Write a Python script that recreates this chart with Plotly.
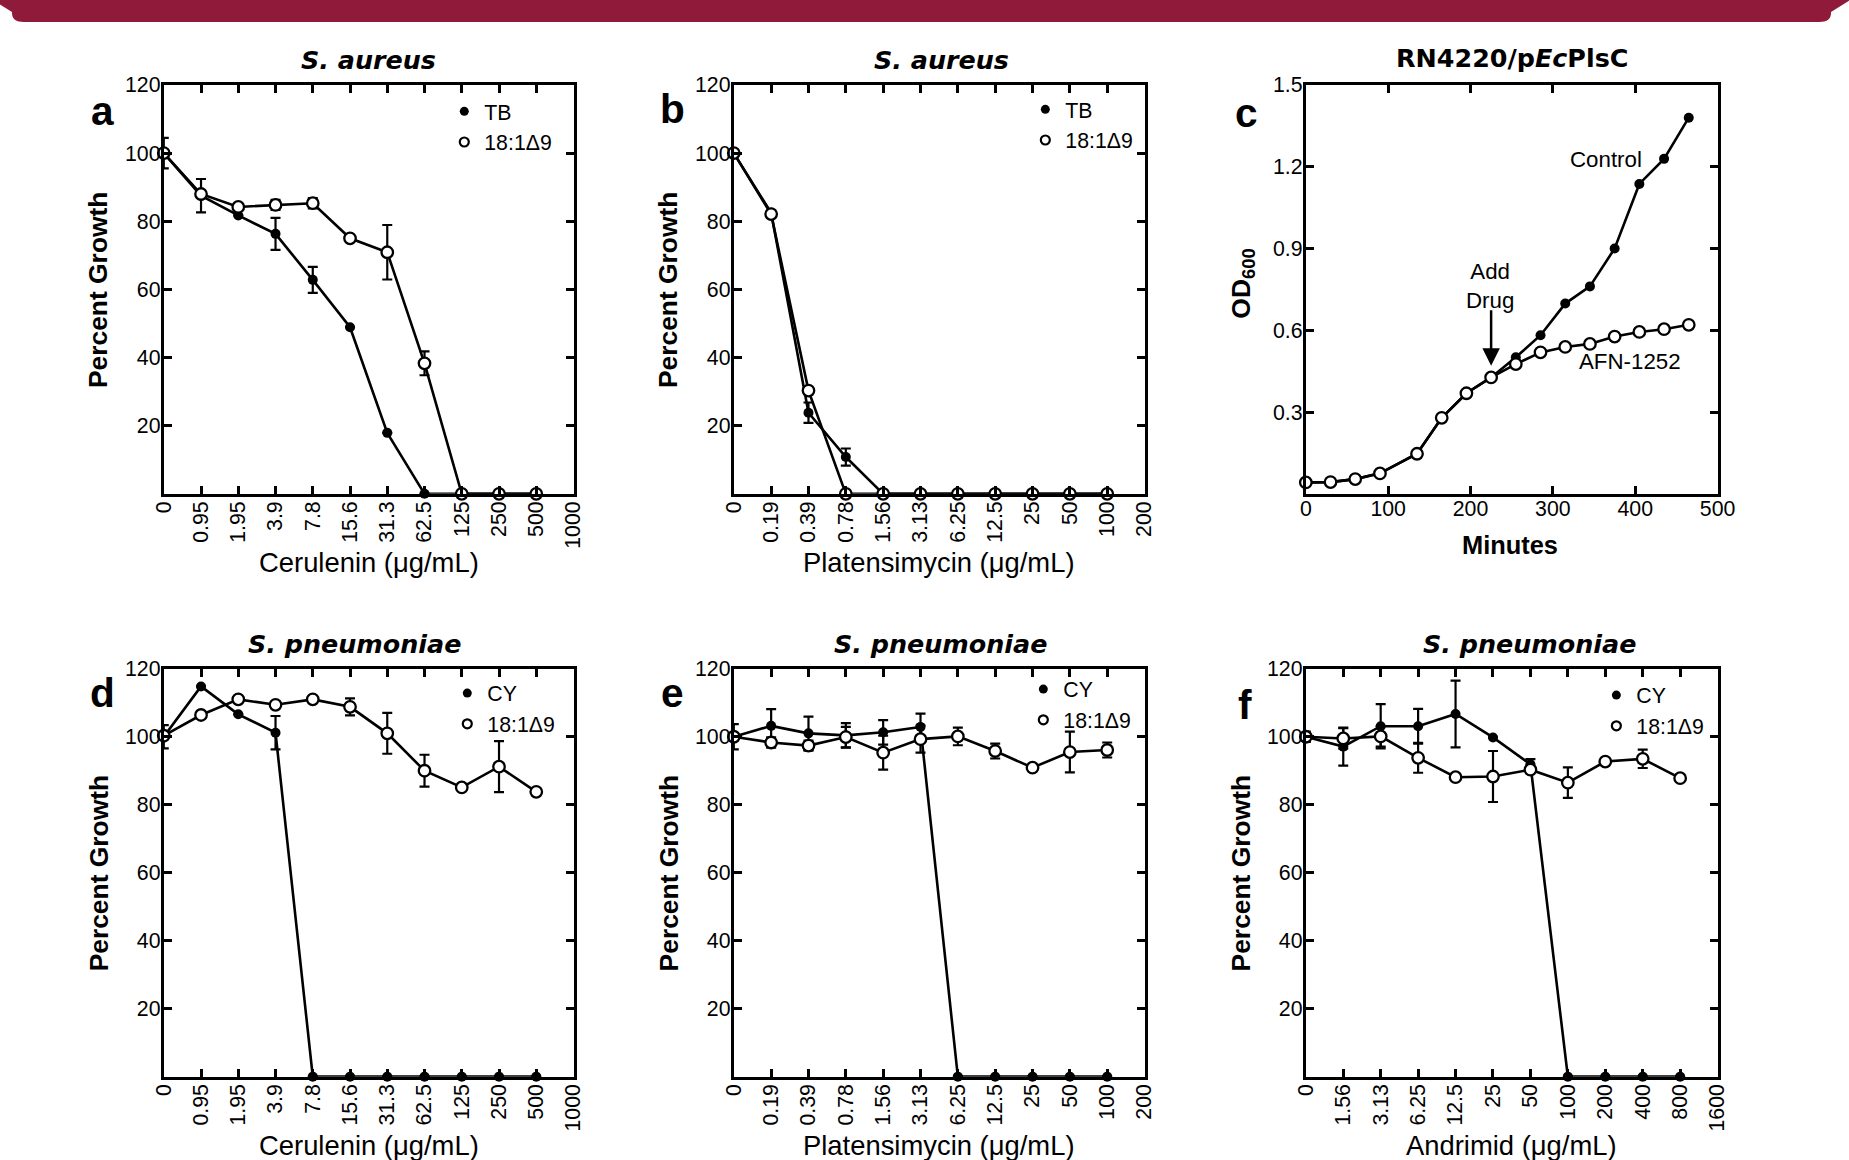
import plotly.graph_objects as go

# ---------------- data ----------------
a_labels = ["0", "0.95", "1.95", "3.9", "7.8", "15.6", "31.3", "62.5", "125", "250", "500", "1000"]
a_tb = [100, 87.5, 81.7, 76.3, 62.8, 48.9, 17.9, 0, 0, 0, 0]
a_tb_err = [4.5, 4.9, 0, 4.7, 3.8, 0, 0, 0, 0, 0, 0]
a_ufa = [100, 88.0, 84.2, 84.8, 85.3, 75.0, 70.9, 38.3, 0, 0, 0]
a_ufa_err = [0, 0, 0, 1.5, 1.5, 0, 8.0, 3.5, 0, 0, 0]

b_labels = ["0", "0.19", "0.39", "0.78", "1.56", "3.13", "6.25", "12.5", "25", "50", "100", "200"]
b_tb = [100, 82.5, 23.8, 10.8, 0, 0, 0, 0, 0, 0, 0]
b_tb_err = [0, 0, 3.0, 2.5, 0, 0, 0, 0, 0, 0, 0]
b_ufa = [100, 82.1, 30.3, 0, 0, 0, 0, 0, 0, 0, 0]
b_ufa_err = [0, 0, 0, 0, 0, 0, 0, 0, 0, 0, 0]

c_minutes = [0, 30, 60, 90, 135, 165, 195, 225, 255, 285, 315, 345, 375, 405, 435, 465]
c_control = [0.042, 0.043, 0.054, 0.075, 0.147, 0.279, 0.369, 0.427, 0.501, 0.582, 0.698, 0.761, 0.900, 1.137, 1.229, 1.380]
c_afn = [0.042, 0.043, 0.054, 0.075, 0.147, 0.279, 0.369, 0.427, 0.476, 0.519, 0.539, 0.550, 0.577, 0.594, 0.604, 0.620]
c_xticks = [0, 100, 200, 300, 400, 500]
c_yticks = [0.3, 0.6, 0.9, 1.2, 1.5]
c_drug_time = 225
c_drug_od = 0.47

d_labels = ["0", "0.95", "1.95", "3.9", "7.8", "15.6", "31.3", "62.5", "125", "250", "500", "1000"]
d_cy = [100, 114.8, 106.6, 101.2, 0, 0, 0, 0, 0, 0, 0]
d_cy_err = [3.4, 0, 0, 4.9, 0, 0, 0, 0, 0, 0, 0]
d_ufa = [100.3, 106.4, 111.0, 109.4, 111.0, 108.8, 101.0, 90.0, 85.1, 91.2, 83.8]
d_ufa_err = [0, 0, 0, 0, 0, 2.5, 6.0, 4.7, 0, 7.5, 0]

e_labels = ["0", "0.19", "0.39", "0.78", "1.56", "3.13", "6.25", "12.5", "25", "50", "100", "200"]
e_cy = [100, 103.2, 101.0, 100.4, 101.3, 102.9, 0, 0, 0, 0, 0]
e_cy_err = [3.7, 4.9, 4.9, 3.6, 3.6, 3.9, 0, 0, 0, 0, 0]
e_ufa = [100, 98.3, 97.4, 99.9, 95.3, 99.3, 100.1, 95.8, 90.9, 95.5, 96.1]
e_ufa_err = [0, 1.5, 1.5, 3.0, 5.0, 4.0, 2.6, 2.2, 0, 6.0, 2.2]

f_labels = ["0", "1.56", "3.13", "6.25", "12.5", "25", "50", "100", "200", "400", "800", "1600"]
f_cy = [100, 97.1, 103.1, 103.1, 106.7, 99.8, 91.9, 0, 0, 0, 0]
f_cy_err = [1.5, 5.6, 6.5, 5.1, 9.8, 0, 1.5, 0, 0, 0, 0]
f_ufa = [100, 99.5, 100.1, 93.8, 88.1, 88.3, 90.3, 86.5, 92.7, 93.5, 87.8]
f_ufa_err = [0, 3.0, 3.0, 4.4, 0, 7.5, 0, 4.5, 0, 2.7, 0]

growth_yticks = [20, 40, 60, 80, 100, 120]

# ---------------- layout helpers ----------------
W, H = 1849, 1160
OX, SX = 13.5, 0.982   # observed placement of the page inside the photograph
OY, SY = 11.0, 0.990


def px(x):
    """reference pixel -> paper fraction"""
    return ((x - OX) / SX) / W


def py(y):
    return 1 - ((y - OY) / SY) / H


def fs(v):
    return round(v / 0.986, 1)


ARIAL = "Liberation Sans, Arial, sans-serif"
DEJAVU = "DejaVu Sans, sans-serif"
BLACK = "black"
TICKFONT = dict(family=ARIAL, size=fs(21), color=BLACK)

cols = [(165, 574), (734, 1144), (1305, 1716)]
rows = [(84, 493), (668, 1076)]

fig = go.Figure()
layout = dict(
    width=W, height=H, margin=dict(l=0, r=0, t=0, b=0),
    paper_bgcolor="white", plot_bgcolor="white",
    showlegend=True, font=dict(family=ARIAL, color=BLACK),
)


def axis_common():
    return dict(showline=True, linewidth=3, linecolor=BLACK, mirror="allticks",
                ticks="inside", ticklen=8, tickwidth=2.5, tickcolor=BLACK,
                showgrid=False, zeroline=False, tickfont=TICKFONT)


annotations = []


def add_growth_panel(idx, col, row, labels, filled, filled_err, opened, opened_err,
                     names, letter, letter_dy, title, title_cx, xtitle, legend_pos):
    xn = "x" if idx == 1 else f"x{idx}"
    yn = "y" if idx == 1 else f"y{idx}"
    xa = "xaxis" if idx == 1 else f"xaxis{idx}"
    ya = "yaxis" if idx == 1 else f"yaxis{idx}"
    x0, x1 = cols[col]
    y0, y1 = rows[row]
    xs = list(range(len(filled)))
    layout[xa] = dict(axis_common(), domain=[px(x0), px(x1)], range=[0, len(labels) - 1],
                      tickmode="array", tickvals=list(range(len(labels))), ticktext=labels,
                      tickangle=-90, ticklabelstandoff=-4, anchor=yn)
    layout[ya] = dict(axis_common(), domain=[py(y1), py(y0)], range=[0, 120],
                      tickmode="array", tickvals=growth_yticks, ticklabelstandoff=-4, anchor=xn)
    leg = "legend" if idx == 1 else f"legend{idx}"
    fig.add_trace(go.Scatter(
        x=xs, y=filled, xaxis=xn, yaxis=yn, mode="lines+markers", showlegend=False,
        line=dict(color=BLACK, width=2.6), cliponaxis=False,
        marker=dict(symbol="circle", size=10, color=BLACK),
        error_y=dict(type="data", array=filled_err, visible=True, color=BLACK, thickness=2.2, width=5)))
    fig.add_trace(go.Scatter(
        x=xs, y=opened, xaxis=xn, yaxis=yn, mode="lines+markers", showlegend=False,
        line=dict(color=BLACK, width=2.6), cliponaxis=False,
        marker=dict(symbol="circle", size=11.5, color="white", line=dict(color=BLACK, width=2.3)),
        error_y=dict(type="data", array=opened_err, visible=True, color=BLACK, thickness=2.2, width=5)))
    fig.add_trace(go.Scatter(x=[None], y=[None], xaxis=xn, yaxis=yn, mode="markers", name=names[0],
                             legend=leg, marker=dict(symbol="circle", size=9, color=BLACK)))
    fig.add_trace(go.Scatter(x=[None], y=[None], xaxis=xn, yaxis=yn, mode="markers", name=names[1],
                             legend=leg, marker=dict(symbol="circle", size=9, color="white",
                                                     line=dict(color=BLACK, width=2.2))))
    lx, ly = legend_pos
    layout[leg] = dict(x=px(lx - 40), y=py(ly - 22), xanchor="left", yanchor="top",
                       bgcolor="rgba(0,0,0,0)", borderwidth=0, font=TICKFONT,
                       tracegroupgap=0, itemwidth=30)
    annotations.append(dict(text=f"<b>{letter}</b>", x=px(x0 - 61), y=py(y0 + letter_dy),
                            xref="paper", yref="paper", showarrow=False, xanchor="center", yanchor="middle",
                            font=dict(family=ARIAL, size=fs(40), color=BLACK)))
    annotations.append(dict(text=f"<b><i>{title}</i></b>", x=px(title_cx), y=py(y0 - 25),
                            xref="paper", yref="paper", showarrow=False, xanchor="center", yanchor="middle",
                            font=dict(family=DEJAVU, size=fs(25), color=BLACK)))
    annotations.append(dict(text="<b>Percent Growth</b>", x=px(x0 - 65), y=py((y0 + y1) / 2),
                            xref="paper", yref="paper", showarrow=False, textangle=-90,
                            xanchor="center", yanchor="middle", font=dict(family=ARIAL, size=fs(26), color=BLACK)))
    annotations.append(dict(text=xtitle, x=px((x0 + x1) / 2), y=py(y1 + 69),
                            xref="paper", yref="paper", showarrow=False, xanchor="center", yanchor="middle",
                            font=dict(family=ARIAL, size=fs(27), color=BLACK)))


add_growth_panel(1, 0, 0, a_labels, a_tb, a_tb_err, a_ufa, a_ufa_err, ["TB", "18:1Δ9"], "a", 26,
                 "S. aureus", 369, "Cerulenin (μg/mL)", (485, 112))
add_growth_panel(2, 1, 0, b_labels, b_tb, b_tb_err, b_ufa, b_ufa_err, ["TB", "18:1Δ9"], "b", 24,
                 "S. aureus", 941, "Platensimycin (μg/mL)", (1065, 110))
add_growth_panel(4, 0, 1, d_labels, d_cy, d_cy_err, d_ufa, d_ufa_err, ["CY", "18:1Δ9"], "d", 24,
                 "S. pneumoniae", 355, "Cerulenin (μg/mL)", (488, 694))
add_growth_panel(5, 1, 1, e_labels, e_cy, e_cy_err, e_ufa, e_ufa_err, ["CY", "18:1Δ9"], "e", 24,
                 "S. pneumoniae", 940, "Platensimycin (μg/mL)", (1063, 690))
add_growth_panel(6, 2, 1, f_labels, f_cy, f_cy_err, f_ufa, f_ufa_err, ["CY", "18:1Δ9"], "f", 36,
                 "S. pneumoniae", 1528, "Andrimid (μg/mL)", (1635, 696))

# ---------------- panel c ----------------
x0, x1 = cols[2]
y0, y1 = rows[0]
layout["xaxis3"] = dict(axis_common(), domain=[px(x0), px(x1)], range=[0, 500],
                        tickmode="array", tickvals=c_xticks, ticklabelstandoff=-6, anchor="y3")
layout["yaxis3"] = dict(axis_common(), domain=[py(y1), py(y0)], range=[0, 1.5],
                        tickmode="array", tickvals=c_yticks, tickformat=".1f", ticklabelstandoff=-4,
                        anchor="x3")
fig.add_trace(go.Scatter(x=c_minutes, y=c_control, xaxis="x3", yaxis="y3", mode="lines+markers",
                         showlegend=False, line=dict(color=BLACK, width=2.6), cliponaxis=False,
                         marker=dict(symbol="circle", size=10, color=BLACK), name="Control"))
fig.add_trace(go.Scatter(x=c_minutes, y=c_afn, xaxis="x3", yaxis="y3", mode="lines+markers",
                         showlegend=False, line=dict(color=BLACK, width=2.6), cliponaxis=False,
                         marker=dict(symbol="circle", size=11.5, color="white", line=dict(color=BLACK, width=2.3)),
                         name="AFN-1252"))
annotations += [
    dict(text="<b>c</b>", x=px(x0 - 59), y=py(y0 + 28), xref="paper", yref="paper", showarrow=False,
         xanchor="center", yanchor="middle", font=dict(family=ARIAL, size=fs(40), color=BLACK)),
    dict(text="<b>RN4220/p<i>Ec</i>PlsC</b>", x=px(1511), y=py(57), xref="paper", yref="paper",
         showarrow=False, xanchor="center", yanchor="middle", font=dict(family=DEJAVU, size=fs(25), color=BLACK)),
    dict(text="<b>OD<sub>600</sub></b>", x=px(x0 - 63), y=py(283), xref="paper", yref="paper",
         showarrow=False, textangle=-90, xanchor="center", yanchor="middle",
         font=dict(family=ARIAL, size=fs(26), color=BLACK)),
    dict(text="<b>Minutes</b>", x=px(1509), y=py(544), xref="paper", yref="paper", showarrow=False,
         xanchor="center", yanchor="middle", font=dict(family=ARIAL, size=fs(25), color=BLACK)),
    dict(text="Control", x=px(1605), y=py(159), xref="paper", yref="paper", showarrow=False,
         xanchor="center", yanchor="middle", font=dict(family=ARIAL, size=fs(22), color=BLACK)),
    dict(text="AFN-1252", x=px(1629), y=py(361), xref="paper", yref="paper", showarrow=False,
         xanchor="center", yanchor="middle", font=dict(family=ARIAL, size=fs(22), color=BLACK)),
    dict(text="Add<br>Drug", x=px(1489), y=py(285), xref="paper", yref="paper", showarrow=False,
         xanchor="center", yanchor="middle", font=dict(family=ARIAL, size=fs(22), color=BLACK)),
    dict(text="", x=c_drug_time, y=c_drug_od, xref="x3", yref="y3", showarrow=True,
         ax=0, ay=-57, axref="pixel", ayref="pixel", arrowhead=2, arrowsize=1.4, arrowwidth=2.5,
         arrowcolor=BLACK, standoff=0),
]

layout["annotations"] = annotations

# banner strip across the top with rounded lower corners
yb = py(21)
yr = py(12)
rx = 12 / W
layout["shapes"] = [dict(type="path", xref="paper", yref="paper",
                         path=f"M -0.05 1.05 L 1.05 1.05 L 1 1 L 1 {yr} Q 1 {yb} {1 - rx} {yb} "
                              f"L {rx} {yb} Q 0 {yb} 0 {yr} L 0 1 Z",
                         fillcolor="#8f1a3a", line=dict(width=0), layer="above")]

fig.update_layout(**layout)
fig.write_html("out.html", config={"displayModeBar": False},
               post_script="document.body.style.margin='0px';document.body.style.padding='0px';"
                           "document.documentElement.style.overflow='hidden';"
                           "document.documentElement.style.background="
                           "'linear-gradient(#8f1a3a 0px, #8f1a3a 12px, #ffffff 12px) no-repeat, #ffffff';"
                           "document.body.style.background='transparent';"
                           "var g=document.getElementById('{plot_id}');g.style.position='fixed';"
                           "g.style.left='0px';g.style.top='0px';")
